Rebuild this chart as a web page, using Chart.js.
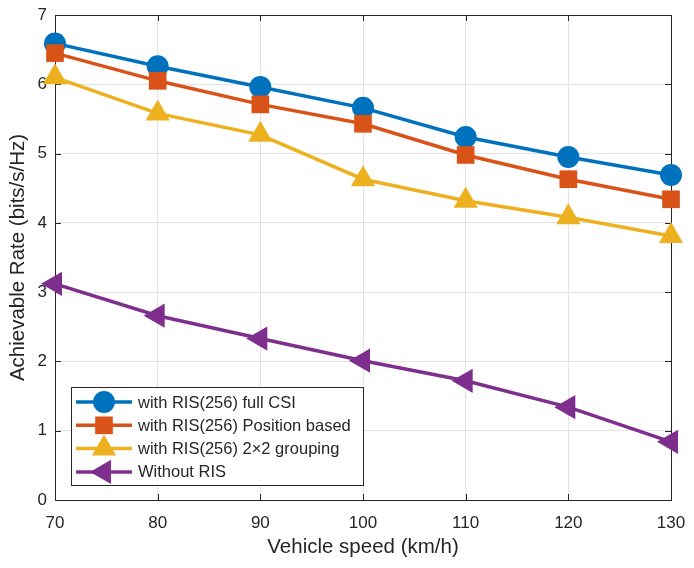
<!DOCTYPE html>
<html>
<head>
<meta charset="utf-8">
<script src="https://cdn.jsdelivr.net/npm/chart.js@4"></script>
<style>
  html, body { margin: 0; padding: 0; background: #fff; }
  #wrap { width: 694px; height: 568px; }
</style>
</head>
<body>
<div id="wrap"><canvas id="rateChart" width="694" height="568"></canvas></div>
<script>
const speeds = [70, 80, 90, 100, 110, 120, 130];
const fullCsi = [6.59, 6.26, 5.96, 5.66, 5.24, 4.95, 4.69];
const positionBased = [6.45, 6.05, 5.71, 5.43, 4.98, 4.63, 4.34];
const grouping = [6.10, 5.58, 5.27, 4.63, 4.32, 4.08, 3.81];
const withoutRis = [3.12, 2.66, 2.33, 2.01, 1.72, 1.34, 0.84];
const seriesNames = ['with RIS(256) full CSI', 'with RIS(256) Position based', 'with RIS(256) 2\u00d72 grouping', 'Without RIS'];
const xTicks = [70, 80, 90, 100, 110, 120, 130];
const yTicks = [0, 1, 2, 3, 4, 5, 6, 7];

const textColor = '#262626';
const fontFamily = 'Arial, "Liberation Sans", Helvetica, sans-serif';

function toPoints(values) {
  return speeds.map((s, i) => ({ x: s, y: values[i] }));
}

const styles = [
  { color: '#0072BD', pointStyle: 'circle', radius: 11, rotation: 0 },
  { color: '#D95319', pointStyle: 'rect', radius: 12.5, rotation: 0 },
  { color: '#EDB120', pointStyle: 'triangle', radius: 14, rotation: 0 },
  { color: '#7E2F8E', pointStyle: 'triangle', radius: 14, rotation: -90 }
];

const datasets = [fullCsi, positionBased, grouping, withoutRis].map((vals, i) => ({
  label: seriesNames[i],
  data: toPoints(vals),
  borderColor: styles[i].color,
  backgroundColor: styles[i].color,
  borderWidth: 3.5,
  pointStyle: styles[i].pointStyle,
  pointRadius: styles[i].radius,
  pointRotation: styles[i].rotation,
  pointBorderWidth: 0,
  pointBackgroundColor: styles[i].color,
  tension: 0,
  clip: false,
  order: 3 - i
}));

// frame with inward ticks on all sides, plus the legend box
const framePlugin = {
  id: 'frame',
  beforeDatasetsDraw(chart) {
    const { ctx, chartArea: a, scales } = chart;
    ctx.save();
    ctx.strokeStyle = textColor;
    ctx.lineWidth = 1;
    ctx.strokeRect(a.left + 0.5, a.top + 0.5, a.right - a.left, a.bottom - a.top);
    ctx.beginPath();
    xTicks.forEach(t => {
      const x = Math.round(scales.x.getPixelForValue(t)) + 0.5;
      ctx.moveTo(x, a.bottom); ctx.lineTo(x, a.bottom - 6);
      ctx.moveTo(x, a.top); ctx.lineTo(x, a.top + 6);
    });
    yTicks.forEach(t => {
      const y = Math.round(scales.y.getPixelForValue(t)) + 0.5;
      ctx.moveTo(a.left, y); ctx.lineTo(a.left + 6, y);
      ctx.moveTo(a.right, y); ctx.lineTo(a.right - 6, y);
    });
    ctx.stroke();
    ctx.restore();
  },
  afterDraw(chart) {
    const { ctx, chartArea: a } = chart;
    const boxL = a.left + 16, boxT = a.bottom - 113, boxW = 292, boxH = 98;
    ctx.save();
    ctx.fillStyle = '#fff';
    ctx.fillRect(boxL, boxT, boxW, boxH);
    ctx.strokeStyle = textColor;
    ctx.lineWidth = 1;
    ctx.strokeRect(boxL + 0.5, boxT + 0.5, boxW, boxH);
    ctx.font = '16.5px ' + fontFamily;
    ctx.textBaseline = 'middle';
    chart.data.datasets.forEach((ds, i) => {
      const y = boxT + 15 + i * 23.3;
      ctx.strokeStyle = ds.borderColor;
      ctx.lineWidth = 3.5;
      ctx.beginPath();
      ctx.moveTo(boxL + 5, y);
      ctx.lineTo(boxL + 61, y);
      ctx.stroke();
      ctx.fillStyle = ds.backgroundColor;
      Chart.helpers.drawPoint(ctx, {
        pointStyle: ds.pointStyle,
        rotation: ds.pointRotation,
        radius: ds.pointRadius,
        borderWidth: 0
      }, boxL + 33, y);
      ctx.fillStyle = textColor;
      ctx.fillText(ds.label, boxL + 67, y + 1);
    });
    ctx.restore();
  }
};

new Chart(document.getElementById('rateChart'), {
  type: 'line',
  data: { datasets },
  options: {
    responsive: false,
    animation: false,
    devicePixelRatio: 1,
    layout: { padding: { left: 0, right: 23, top: 15, bottom: 0 } },
    plugins: { legend: { display: false }, tooltip: { enabled: false } },
    scales: {
      x: {
        type: 'linear',
        min: 70, max: 130,
        afterBuildTicks: s => { s.ticks = xTicks.map(v => ({ value: v })); },
        afterFit: s => { s.height = 68; s.paddingLeft = 0; s.paddingRight = 0; },
        grid: { color: '#e3e3e3', lineWidth: 1, drawTicks: false },
        border: { display: false },
        ticks: { color: textColor, font: { family: fontFamily, size: 17 }, padding: 13, maxRotation: 0 },
        title: { display: true, text: 'Vehicle speed (km/h)', color: textColor, font: { family: fontFamily, size: 20.5 }, padding: { top: 0, bottom: 8 } }
      },
      y: {
        type: 'linear',
        min: 0, max: 7,
        afterBuildTicks: s => { s.ticks = yTicks.map(v => ({ value: v })); },
        afterFit: s => { s.width = 55; s.paddingTop = 0; s.paddingBottom = 0; },
        grid: { color: '#e3e3e3', lineWidth: 1, drawTicks: false },
        border: { display: false },
        ticks: { color: textColor, font: { family: fontFamily, size: 17 }, padding: 8 },
        title: { display: true, text: 'Achievable Rate (bits/s/Hz)', color: textColor, font: { family: fontFamily, size: 20.5 }, padding: { top: 6, bottom: 0 } }
      }
    }
  },
  plugins: [framePlugin]
});
</script>
</body>
</html>
